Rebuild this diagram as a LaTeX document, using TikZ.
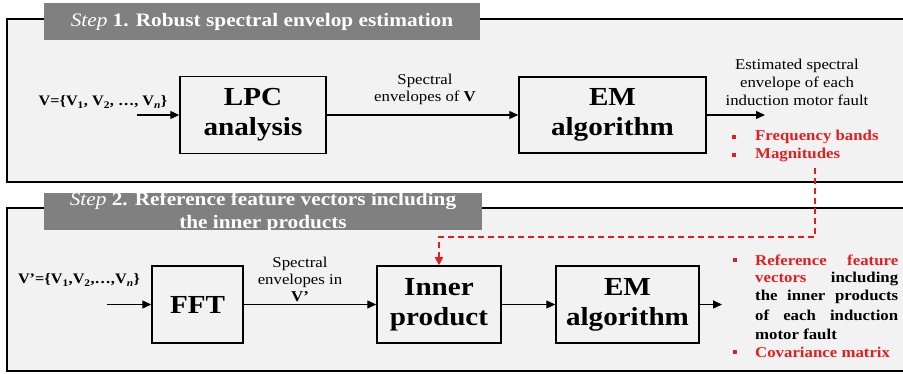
\documentclass[tikz,border=0pt]{standalone}
\usepackage{fontspec}
\setmainfont[FakeStretch=1.12]{Liberation Serif}
\usetikzlibrary{arrows.meta}
\definecolor{panelgray}{HTML}{F2F2F2}
\definecolor{bargray}{HTML}{808080}
\definecolor{fred}{HTML}{E41E1E}
\begin{document}
\begin{tikzpicture}[x=1pt,y=-1pt,
  panel/.style={draw=black, line width=1.8pt, fill=panelgray},
  titlebar/.style={fill=bargray, draw=none},
  titletext/.style={text=white, font=\bfseries\fontsize{19}{23}\selectfont, align=center, inner sep=0},
  blockbox/.style={draw, line width=1.5pt, fill=panelgray, font=\bfseries\fontsize{26}{30}\selectfont, align=center, inner sep=0},
  flow/.style={-{Triangle[length=9pt,width=8pt]}, line width=1.4pt},
  lbl/.style={font=\fontsize{15}{17}\selectfont, align=center, inner sep=0},
  inlbl/.style={font=\bfseries\fontsize{14.5}{17}\selectfont, inner sep=0},
  bul/.style={fill=fred, minimum size=4.5pt, inner sep=0},
  bultext/.style={font=\bfseries\fontsize{15}{18}\selectfont, anchor=west, inner sep=0},
  feedback/.style={draw=fred, line width=1.6pt, dash pattern=on 6.5pt off 3.5pt, -{Triangle[length=8pt,width=8pt]}}
]
\useasboundingbox (0,0) rectangle (903,374);

% panel 1
\path[panel] (7,19) rectangle (912,182);
\path[titlebar] (44,3) rectangle (480,40);
\node[titletext] (t1) at (262,22) {{\mdseries\itshape Step} 1. Robust spectral envelop estimation};

% panel 2
\path[panel] (7,208) rectangle (912,371);
\begin{scope}
\clip (44,193) rectangle (482,230);
\path[titlebar] (44,193) rectangle (482,230);
\node[titletext] (t2) at (263,212) {{\mdseries\itshape Step} 2. Reference feature vectors including\\the inner products};
\end{scope}

% step 1 blocks
\node[blockbox, minimum width=146pt, minimum height=77pt] (lpc) at (253,115) {LPC\\analysis};
\node[blockbox, minimum width=187pt, minimum height=76pt] (em1) at (612.5,115) {EM\\algorithm};

\node[inlbl] (v1) at (103,102) {V=\{V\textsubscript{1}, V\textsubscript{2}, …, V\textsubscript{\textit{n}}\}};
\coordinate (in1) at (137,115);
\draw[flow] (in1) -- (lpc.west);
\draw[flow] (lpc.east) -- (em1.west);
\node[lbl] (se1) at (425,89) {Spectral\\envelopes of \textbf{V}};
\coordinate (out1) at (765,115);
\draw[flow] (em1.east) -- (out1);
\node[lbl, font=\fontsize{15}{18}\selectfont] (est) at (797,82) {Estimated spectral\\envelope of each\\induction motor fault};

\node[bul] (b1) at (734,137) {};
\node[bultext, text=fred] (fb) at (755,137) {Frequency bands};
\node[bul] (b2) at (734,155) {};
\node[bultext, text=fred] (mg) at (755,155) {Magnitudes};

% step 2 blocks
\node[blockbox, minimum width=91pt, minimum height=77pt] (fft) at (197.5,304.5) {FFT};
\node[blockbox, minimum width=124pt, minimum height=77pt] (inner) at (439,304.5) {Inner\\product};
\node[blockbox, minimum width=143pt, minimum height=77pt] (em2) at (627.5,304.5) {EM\\algorithm};

\node[inlbl] (v2) at (79,280) {V’=\{V\textsubscript{1},V\textsubscript{2},…,V\textsubscript{\textit{n}}\}};
\coordinate (in2) at (107,304.5);
\draw[flow] (in2) -- (fft.west);
\draw[flow] (fft.east) -- (inner.west);
\node[lbl] (se2) at (300,279) {Spectral\\envelopes in\\\textbf{V’}};
\draw[flow] (inner.east) -- (em2.west);
\coordinate (out2) at (722,304.5);
\draw[flow] (em2.east) -- (out2);

\node[bul] (b3) at (735,260) {};
\node[bultext] (r1) at (755,260) {\hbox to 143pt{\color{fred}Reference\hfill feature}};
\node[bultext] (r2) at (755,278.5) {\hbox to 143pt{\color{fred}vectors\color{black}\hfill including}};
\node[bultext] (r3) at (755,297) {\hbox to 143pt{the\hfill inner\hfill products}};
\node[bultext] (r4) at (755,315.5) {\hbox to 143pt{of\hfill each\hfill induction}};
\node[bultext] (r5) at (755,334) {motor fault};
\node[bul] (b4) at (735,352) {};
\node[bultext, text=fred] (cv) at (755,352) {Covariance matrix};

% feedback
\coordinate (dstart) at (815,168);
\coordinate (dturn) at (815,237);
\draw[feedback] (dstart) -- (dturn) -| (inner.north);
\end{tikzpicture}
\end{document}
